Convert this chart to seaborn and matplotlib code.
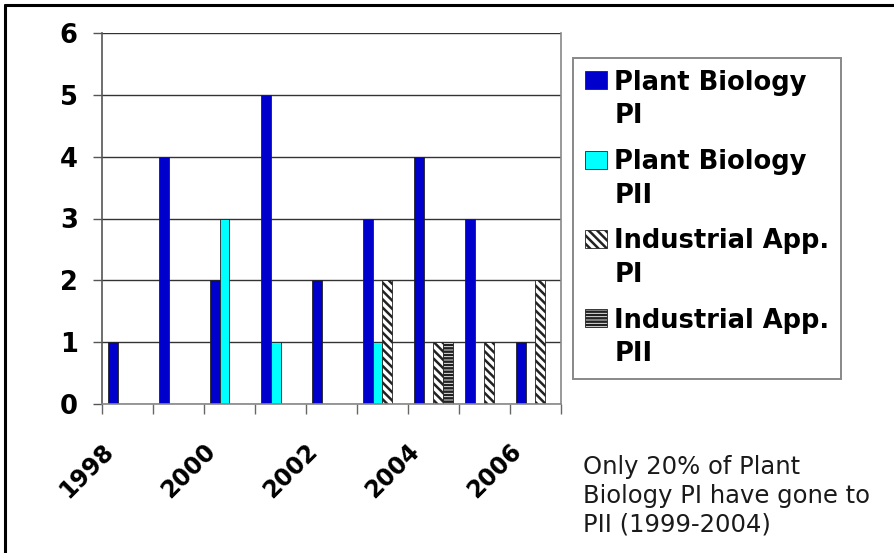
import numpy as np
import pandas as pd
import matplotlib
matplotlib.use("Agg")
import matplotlib.pyplot as plt
import matplotlib.transforms as mtransforms
from matplotlib.lines import Line2D
from matplotlib.patches import Patch, Rectangle
from matplotlib.legend_handler import HandlerPatch
import seaborn as sns

# data
years = ['1998', '1999', '2000', '2001', '2002', '2003', '2004', '2005', '2006']
plant_pi = [1, 4, 2, 5, 2, 3, 4, 3, 1]
plant_pii = [0, 0, 3, 1, 0, 1, 0, 0, 0]
ind_pi = [0, 0, 0, 0, 0, 2, 1, 1, 2]
ind_pii = [0, 0, 0, 0, 0, 0, 1, 0, 0]

series = ['Plant Biology PI', 'Plant Biology PII', 'Industrial App. PI', 'Industrial App. PII']
legend_labels = ['Plant Biology\nPI', 'Plant Biology\nPII', 'Industrial App.\nPI', 'Industrial App.\nPII']
shown_years = ['1998', '2000', '2002', '2004', '2006']
note = 'Only 20% of Plant\nBiology PI have gone to\nPII (1999-2004)'

face_colors = ['#0000CC', '#00FFFF', 'white', 'white']
hatches = [None, None, '\\\\\\\\', '-----']

sns.set_theme(style='white')
plt.rcParams['font.family'] = ['DejaVu Sans']
plt.rcParams['hatch.linewidth'] = 1.8
plt.rcParams['text.color'] = 'black'
plt.rcParams['xtick.labelcolor'] = 'black'
plt.rcParams['ytick.labelcolor'] = 'black'

rows = []
for vals, name in zip([plant_pi, plant_pii, ind_pi, ind_pii], series):
    for y, v in zip(years, vals):
        if v > 0:
            rows.append({'year': y, 'series': name, 'count': v})
df = pd.DataFrame(rows)

fig = plt.figure(figsize=(8.94, 5.53), dpi=100)
ax = fig.add_axes([102 / 894, 1 - 404 / 553, 459 / 894, 371 / 553])

sns.barplot(data=df, x='year', y='count', hue='series', order=years,
            hue_order=series, palette=face_colors, width=0.75, dodge=True,
            errorbar=None, legend=False, ax=ax, edgecolor='#222222',
            linewidth=0.6)

for cont, fc, h in zip(ax.containers, face_colors, hatches):
    for bar in cont:
        bar.set_facecolor(fc)
        bar.set_edgecolor('#222222')
        if h:
            bar.set_hatch(h)

ax.set_xlim(-0.5, len(years) - 0.5)
ax.set_ylim(0, 6)
ax.set_yticks(range(7))
ax.yaxis.grid(True, color='#333333', linewidth=1.0)
ax.set_axisbelow(True)
ax.set_xlabel('')
ax.set_ylabel('')

ax.spines['top'].set_visible(False)
ax.spines['left'].set_color('#555555')
ax.spines['right'].set_color('#888888')
ax.spines['bottom'].set_color('#888888')
for s in ['left', 'right', 'bottom']:
    ax.spines[s].set_linewidth(1.2)

ax.tick_params(axis='y', left=True, length=6.5, width=1, color='#555555',
               pad=11, labelsize=18.5)
plt.setp(ax.get_yticklabels(), fontweight='bold')

ax.set_xticks([years.index(y) for y in shown_years])
ax.set_xticklabels(shown_years, rotation=45, ha='right', fontweight='bold', fontsize=17)
ax.set_xticks(np.arange(-0.5, len(years)), minor=True)
ax.tick_params(axis='x', which='major', bottom=True, length=0, pad=25)
ax.tick_params(axis='x', which='minor', bottom=True, length=7, width=1, color='#666666')
shift = mtransforms.ScaledTranslation(-9 / 100, 0, fig.dpi_scale_trans)
for lbl in ax.get_xticklabels():
    lbl.set_transform(lbl.get_transform() + shift)


def top_patch(legend, orig_handle, xdescent, ydescent, width, height, fontsize):
    # put the swatch next to the first line of the two-line label
    return Rectangle((-xdescent, -ydescent + 0.78 * fontsize), width, height)


handles = [Patch(facecolor=fc, edgecolor='#222222', hatch=h, linewidth=0.6)
           for fc, h in zip(face_colors, hatches)]
leg = fig.legend(handles, legend_labels, loc='upper left',
                 bbox_to_anchor=(573 / 894, 1 - 58 / 553), bbox_transform=fig.transFigure,
                 borderaxespad=0, frameon=True, fancybox=False, framealpha=1,
                 edgecolor='#888888', borderpad=0.45, handlelength=0.86,
                 handleheight=0.7, handletextpad=0.3, labelspacing=0.76,
                 prop={'weight': 'bold', 'size': 18.5},
                 handler_map={Patch: HandlerPatch(patch_func=top_patch)})
leg.get_frame().set_linewidth(1.4)
for t in leg.get_texts():
    t.set_linespacing(1.39)
    t.set_color('black')

fig.text(583 / 894, 1 - 455 / 553, note, fontsize=17.5, va='top', ha='left',
         color='#1a1a1a', linespacing=1.25)

# outer frame (top and left edges only, as in the source image)
fig.add_artist(Line2D([5 / 894, 5 / 894], [0, 1 - 5 / 553], transform=fig.transFigure,
                      color='black', linewidth=2.2))
fig.add_artist(Line2D([5 / 894, 1], [1 - 5 / 553, 1 - 5 / 553], transform=fig.transFigure,
                      color='black', linewidth=2.2))

fig.savefig('out.png', dpi=100)
